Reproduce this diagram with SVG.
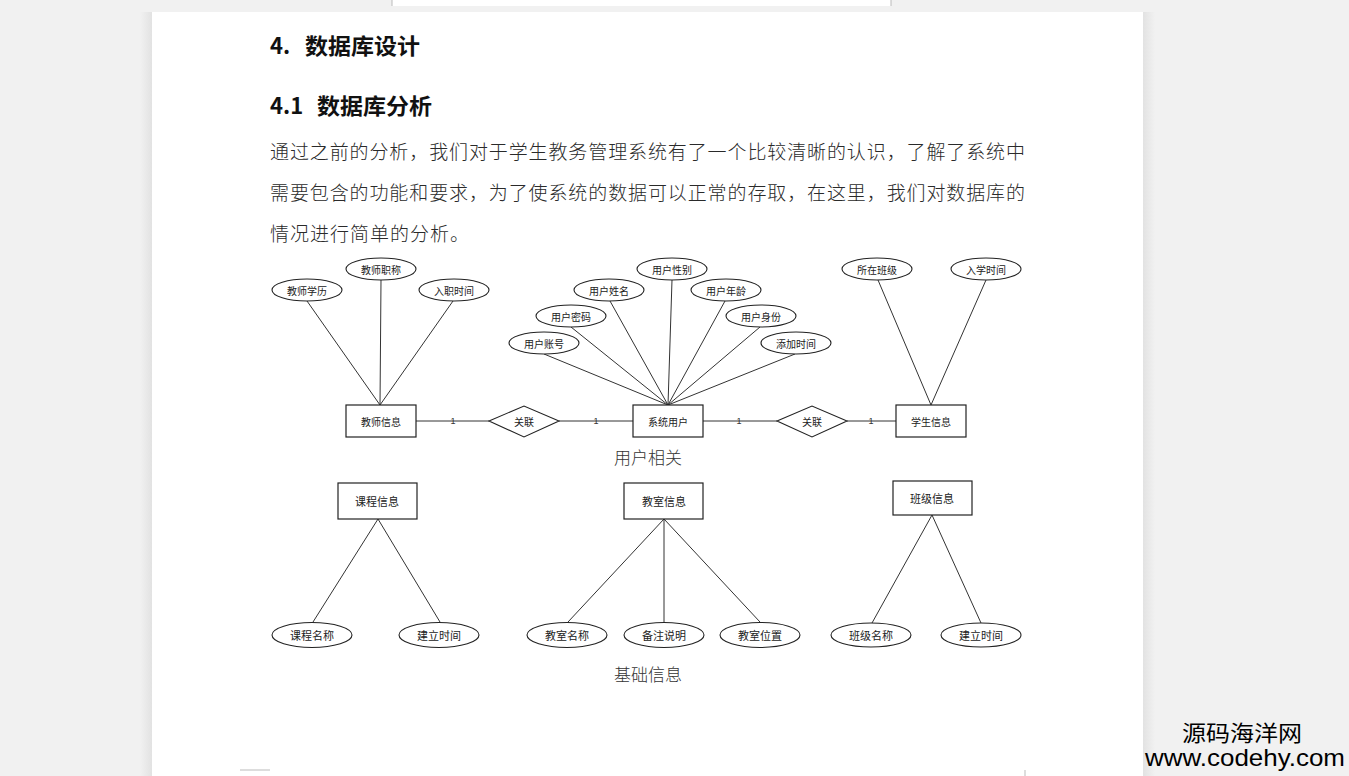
<svg xmlns="http://www.w3.org/2000/svg" width="1349" height="776" viewBox="0 0 1349 776">
<defs>
<style>
.bg{fill:#f1f1f1}
.page{fill:#ffffff}
.sh{fill:url(#shl)}
.shr{fill:url(#shr)}
.ent{fill:#ffffff;stroke:#222;stroke-width:1.2}
.att{fill:#ffffff;stroke:#222;stroke-width:1.1}
.rel{fill:#ffffff;stroke:#222;stroke-width:1.1}
.ln{stroke:#333;stroke-width:1;fill:none}
.t{font-family:"Noto Sans CJK SC","Liberation Sans",sans-serif;fill:#222;text-anchor:middle;dominant-baseline:central}
.s10{font-size:10px}
.s11{font-size:11px}
.one{font-family:"Liberation Sans",sans-serif;font-size:9px;fill:#333;text-anchor:middle;dominant-baseline:central}
.h{font-family:"Noto Sans CJK SC","Liberation Sans",sans-serif;font-weight:bold;fill:#111}
.p{font-family:"Noto Sans CJK SC",sans-serif;font-size:19px;fill:#2a2a2a;font-weight:300}
.cap{font-family:"Noto Sans CJK SC",sans-serif;font-size:17px;fill:#333;font-weight:300;text-anchor:middle;dominant-baseline:central}
.wm{fill:#000}
</style>
<linearGradient id="shl" x1="0" y1="0" x2="1" y2="0">
<stop offset="0" stop-color="#f1f1f1"/>
<stop offset="1" stop-color="#e2e2e2"/>
</linearGradient>
<linearGradient id="shr" x1="0" y1="0" x2="1" y2="0">
<stop offset="0" stop-color="#e2e2e2"/>
<stop offset="1" stop-color="#f1f1f1"/>
</linearGradient>
</defs>

<rect class="bg" x="0" y="0" width="1349" height="776"/>
<rect x="392" y="0" width="499" height="6" fill="#ffffff"/>
<path d="M392 0 V6 M891 0 V6" stroke="#bbb" stroke-width="1"/>
<rect class="sh" x="140" y="12" width="12" height="764"/>
<rect class="shr" x="1143" y="12" width="12" height="764"/>
<rect class="page" x="152" y="12" width="991" height="764"/>
<path d="M240 770 H270 M1025 770 V776" stroke="#bbb" stroke-width="1"/>

<g id="headings">
<text class="h" font-size="22" y="54"><tspan x="270">4.</tspan><tspan x="305" textLength="115" lengthAdjust="spacingAndGlyphs">数据库设计</tspan></text>
<text class="h" font-size="22" y="114"><tspan x="270">4.1</tspan><tspan x="317" textLength="115" lengthAdjust="spacingAndGlyphs">数据库分析</tspan></text>
</g>

<g id="paragraph">
<text class="p" x="270" y="159" textLength="755" lengthAdjust="spacing">通过之前的分析，我们对于学生教务管理系统有了一个比较清晰的认识，了解了系统中</text>
<text class="p" x="270" y="200" textLength="755" lengthAdjust="spacing">需要包含的功能和要求，为了使系统的数据可以正常的存取，在这里，我们对数据库的</text>
<text class="p" x="270" y="241" textLength="199" lengthAdjust="spacing">情况进行简单的分析。</text>
</g>

<g id="connectors">
<line class="ln" x1="307" y1="301" x2="380" y2="405"/>
<line class="ln" x1="381" y1="280" x2="380" y2="405"/>
<line class="ln" x1="453" y1="301" x2="380" y2="405"/>
<line class="ln" x1="544" y1="354" x2="668" y2="405"/>
<line class="ln" x1="571" y1="327" x2="668" y2="405"/>
<line class="ln" x1="610" y1="301" x2="668" y2="405"/>
<line class="ln" x1="672" y1="280" x2="668" y2="405"/>
<line class="ln" x1="725" y1="301" x2="668" y2="405"/>
<line class="ln" x1="760" y1="327" x2="668" y2="405"/>
<line class="ln" x1="795" y1="354" x2="668" y2="405"/>
<line class="ln" x1="878" y1="280" x2="931" y2="405"/>
<line class="ln" x1="986" y1="280" x2="931" y2="405"/>
<line class="ln" x1="416" y1="421" x2="489" y2="421"/>
<line class="ln" x1="559" y1="421" x2="633" y2="421"/>
<line class="ln" x1="703" y1="421" x2="777" y2="421"/>
<line class="ln" x1="847" y1="421" x2="896" y2="421"/>
<line class="ln" x1="378" y1="519" x2="313" y2="622"/>
<line class="ln" x1="378" y1="519" x2="440" y2="622"/>
<line class="ln" x1="664" y1="519" x2="568" y2="622"/>
<line class="ln" x1="664" y1="519" x2="664" y2="622" stroke-width="1.6"/>
<line class="ln" x1="664" y1="519" x2="760" y2="622"/>
<line class="ln" x1="932" y1="515" x2="872" y2="623"/>
<line class="ln" x1="932" y1="515" x2="981" y2="623"/>
<text class="one" x="453" y="421">1</text>
<text class="one" x="596" y="421">1</text>
<text class="one" x="739" y="421">1</text>
<text class="one" x="871" y="421">1</text>
</g>

<g id="teacher">
<rect class="ent" x="346" y="405" width="70" height="32"/>
<text class="t s10" x="381" y="421">教师信息</text>
</g>
<g id="teacher-edu"><ellipse class="att" cx="307" cy="290" rx="35" ry="11"/><text class="t s10" x="307" y="290">教师学历</text></g>
<g id="teacher-title"><ellipse class="att" cx="381" cy="269" rx="35" ry="11"/><text class="t s10" x="381" y="269">教师职称</text></g>
<g id="teacher-join"><ellipse class="att" cx="454" cy="290" rx="35" ry="11"/><text class="t s10" x="454" y="290">入职时间</text></g>

<g id="rel1"><polygon class="rel" points="489,421 524,406 559,421 524,437"/><text class="t s10" x="524" y="421">关联</text></g>

<g id="user">
<rect class="ent" x="633" y="405" width="70" height="32"/>
<text class="t s10" x="668" y="421">系统用户</text>
</g>
<g id="u-account"><ellipse class="att" cx="544" cy="343" rx="35" ry="11"/><text class="t s10" x="544" y="343">用户账号</text></g>
<g id="u-pwd"><ellipse class="att" cx="571" cy="316" rx="35" ry="11"/><text class="t s10" x="571" y="316">用户密码</text></g>
<g id="u-name"><ellipse class="att" cx="609" cy="290" rx="35" ry="11"/><text class="t s10" x="609" y="290">用户姓名</text></g>
<g id="u-sex"><ellipse class="att" cx="672" cy="269" rx="35" ry="11"/><text class="t s10" x="672" y="269">用户性别</text></g>
<g id="u-age"><ellipse class="att" cx="726" cy="290" rx="35" ry="11"/><text class="t s10" x="726" y="290">用户年龄</text></g>
<g id="u-role"><ellipse class="att" cx="761" cy="316" rx="35" ry="11"/><text class="t s10" x="761" y="316">用户身份</text></g>
<g id="u-added"><ellipse class="att" cx="796" cy="343" rx="35" ry="11"/><text class="t s10" x="796" y="343">添加时间</text></g>

<g id="rel2"><polygon class="rel" points="777,421 812,406 847,421 812,437"/><text class="t s10" x="812" y="421">关联</text></g>

<g id="student">
<rect class="ent" x="896" y="405" width="70" height="32"/>
<text class="t s10" x="931" y="421">学生信息</text>
</g>
<g id="s-class"><ellipse class="att" cx="877" cy="269" rx="35" ry="11"/><text class="t s10" x="877" y="269">所在班级</text></g>
<g id="s-enroll"><ellipse class="att" cx="986" cy="269" rx="35" ry="11"/><text class="t s10" x="986" y="269">入学时间</text></g>

<g id="cap1"><text class="cap" x="648" y="456">用户相关</text></g>

<g id="course">
<rect class="ent" x="338" y="483" width="79" height="36"/>
<text class="t s11" x="377" y="501">课程信息</text>
</g>
<g id="c-name"><ellipse class="att" cx="312" cy="635" rx="40" ry="12.5"/><text class="t s11" x="312" y="635">课程名称</text></g>
<g id="c-time"><ellipse class="att" cx="439" cy="635" rx="40" ry="12.5"/><text class="t s11" x="439" y="635">建立时间</text></g>

<g id="room">
<rect class="ent" x="624" y="483" width="79" height="36"/>
<text class="t s11" x="664" y="501">教室信息</text>
</g>
<g id="r-name"><ellipse class="att" cx="567" cy="635" rx="40" ry="12.5"/><text class="t s11" x="567" y="635">教室名称</text></g>
<g id="r-note"><ellipse class="att" cx="664" cy="635" rx="40" ry="12.5"/><text class="t s11" x="664" y="635">备注说明</text></g>
<g id="r-loc"><ellipse class="att" cx="760" cy="635" rx="40" ry="12.5"/><text class="t s11" x="760" y="635">教室位置</text></g>

<g id="klass">
<rect class="ent" x="893" y="481" width="79" height="34"/>
<text class="t s11" x="932" y="498">班级信息</text>
</g>
<g id="k-name"><ellipse class="att" cx="871" cy="635" rx="40" ry="12"/><text class="t s11" x="871" y="635">班级名称</text></g>
<g id="k-time"><ellipse class="att" cx="981" cy="635" rx="40" ry="12"/><text class="t s11" x="981" y="635">建立时间</text></g>

<g id="cap2"><text class="cap" x="648" y="673">基础信息</text></g>

<g id="watermark">
<text class="wm" x="1182" y="741" font-family="'Noto Sans CJK SC',sans-serif" font-size="22" textLength="120" lengthAdjust="spacingAndGlyphs">源码海洋网</text>
<text class="wm" x="1145" y="766" font-family="'Liberation Sans',sans-serif" font-size="24" textLength="200" lengthAdjust="spacingAndGlyphs">www.codehy.com</text>
</g>
</svg>
